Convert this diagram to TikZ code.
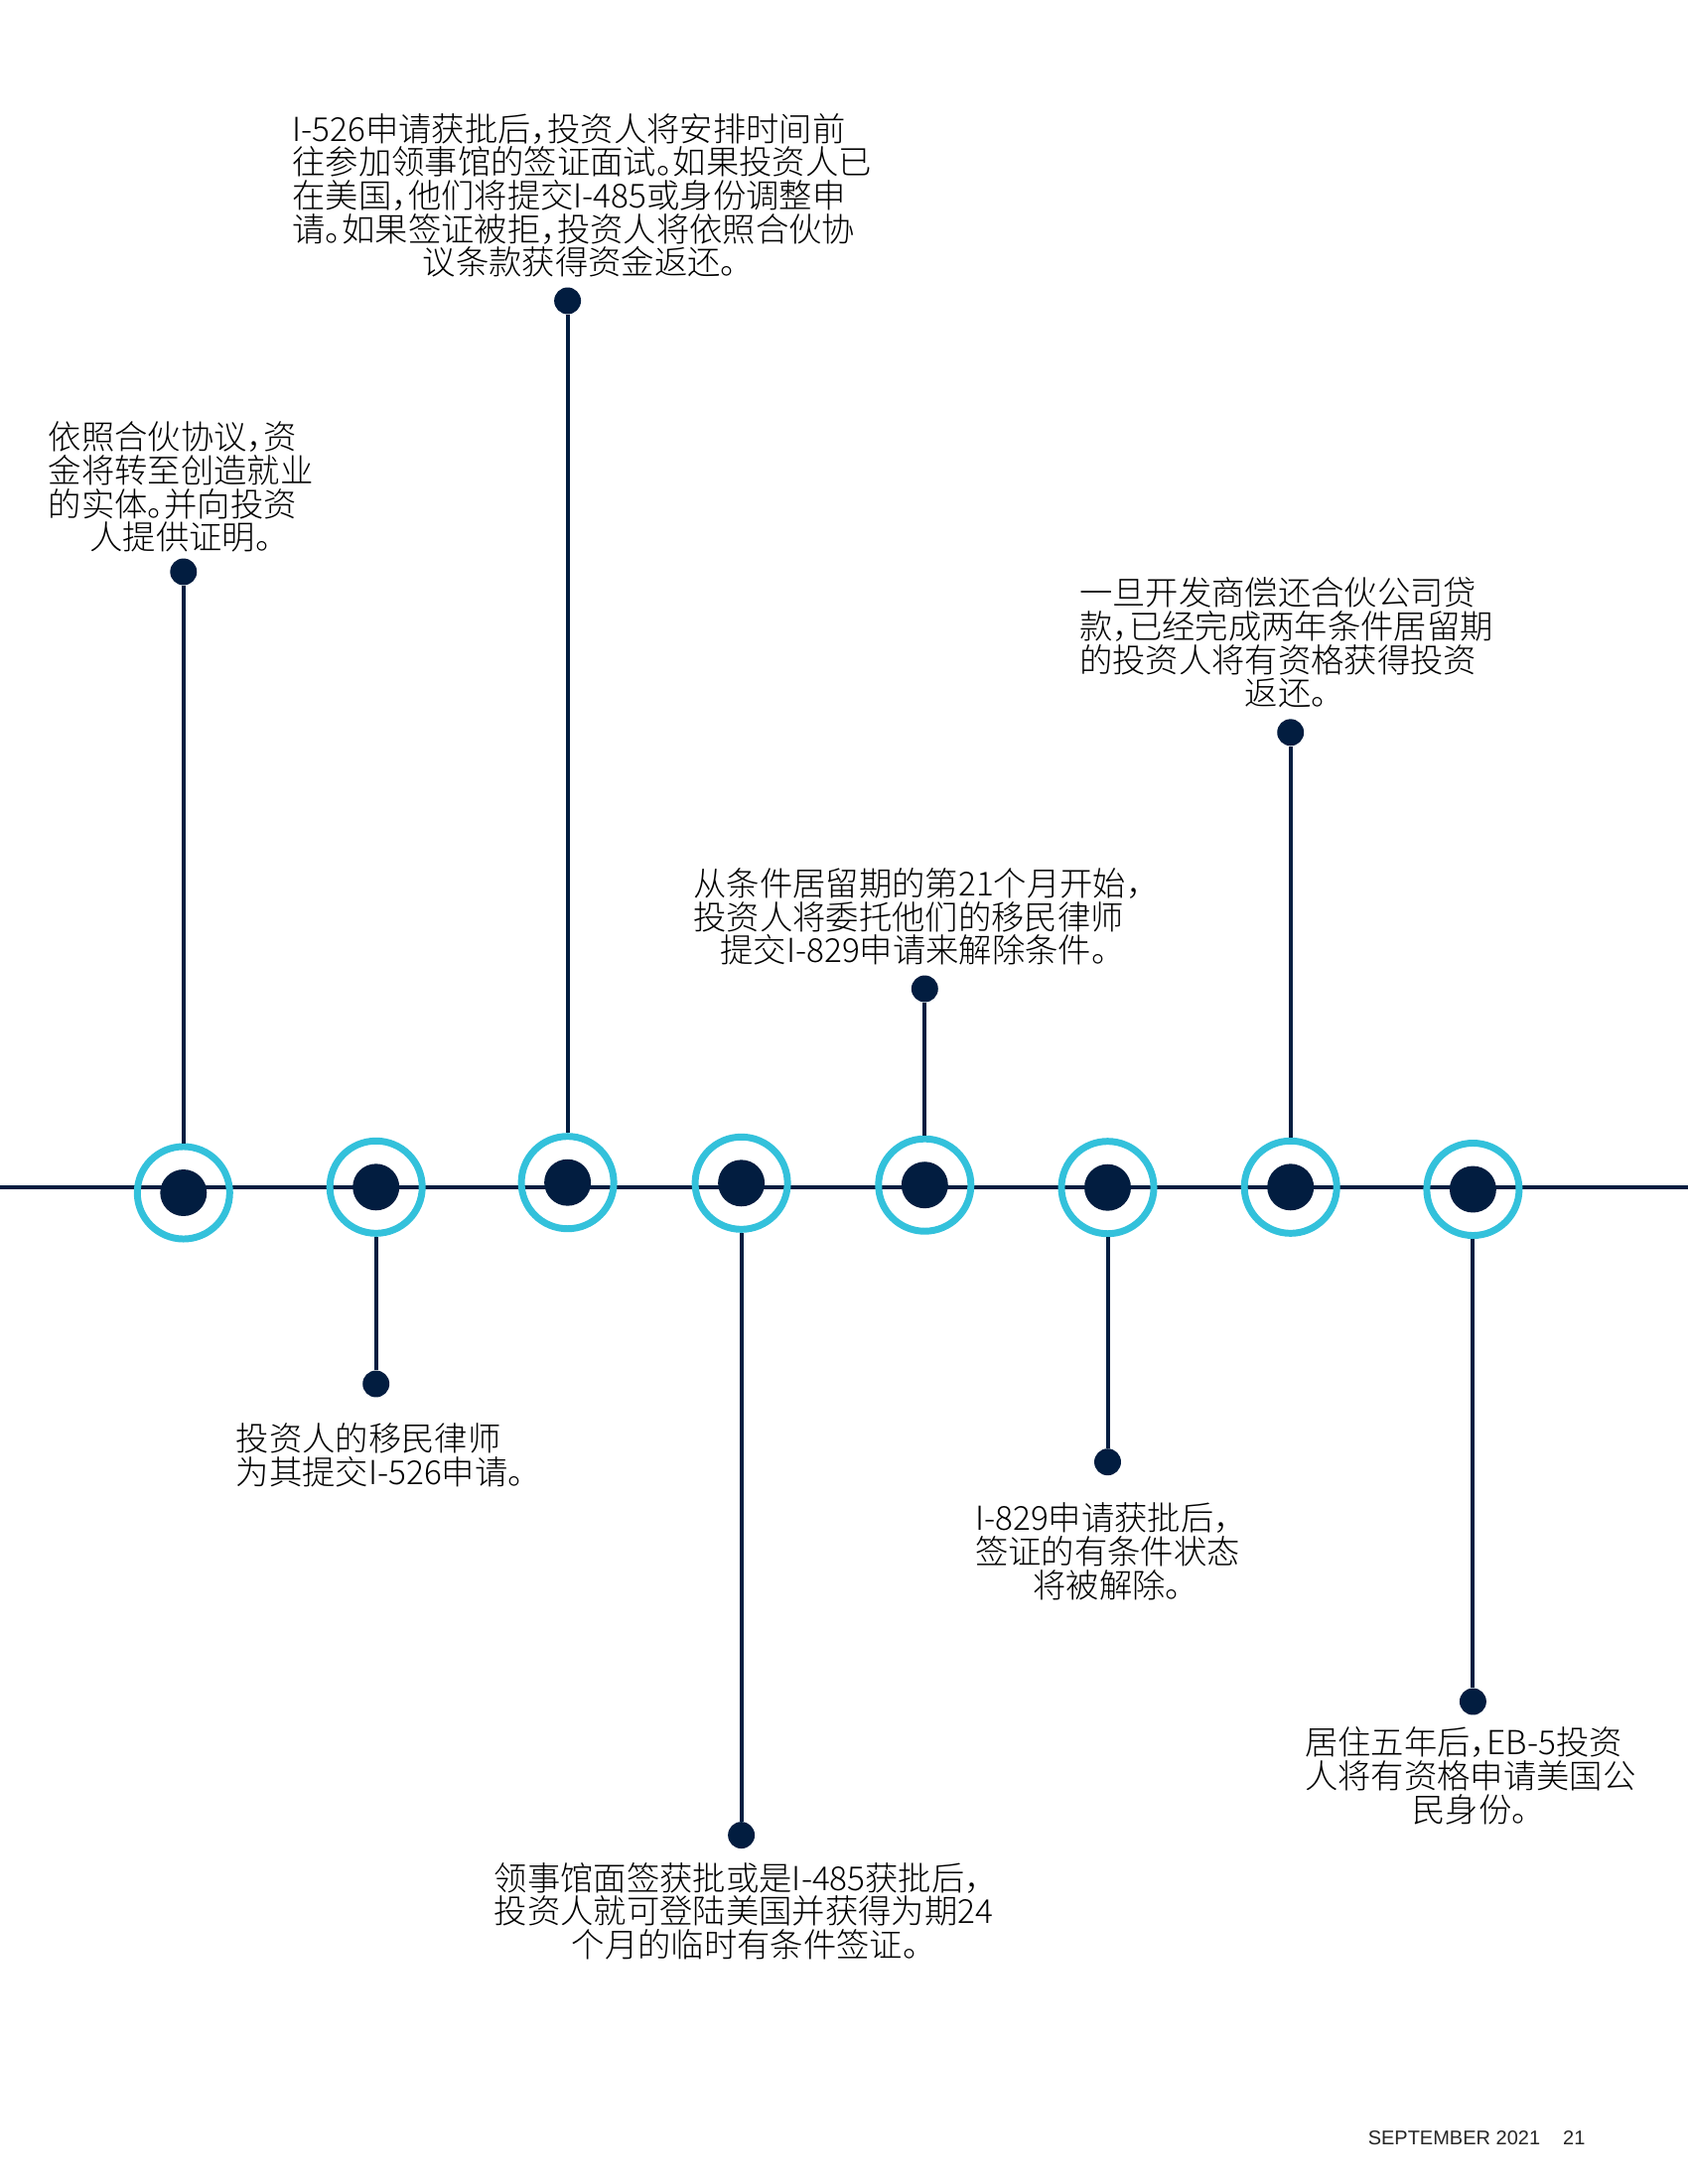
\documentclass[tikz,border=0pt]{standalone}
\usepackage{fontspec}
\setmainfont{Noto Sans CJK SC}[UprightFont={* Light}, RawFeature=+halt]
\newfontfamily\footfont{Liberation Sans}
\usetikzlibrary{positioning}
\definecolor{navy}{HTML}{021D40}
\definecolor{ringblue}{HTML}{33C1DB}
\setlength\parindent{0pt}
\newcommand\notefont{\fontsize{12}{12.1}\selectfont\lineskiplimit=-\maxdimen}
\newcommand\lastline[1]{\makebox[\hsize]{#1}}

\begin{document}
\begin{tikzpicture}[x=0.36pt, y=-0.36pt,
  markring/.style={circle, draw=ringblue, line width=2.5pt, minimum size=33.5pt, inner sep=0pt},
  markdot/.style={circle, fill=navy, minimum size=16.9pt, inner sep=0pt},
  enddot/.style={circle, fill=navy, minimum size=9.7pt, inner sep=0pt},
  stemline/.style={draw=navy, line width=1.45pt},
  notetext/.style={align=left, inner sep=0pt, font=\notefont}]
% 页面范围
\fill[white] (0,0) rectangle (1700,2200);
\useasboundingbox (0,0) rectangle (1700,2200);

% 时间轴
\coordinate (tl-w) at (0,1195.7);
\coordinate (tl-e) at (1700,1195.7);
\draw[navy, line width=1.4pt] (tl-w) -- (tl-e);

% 时间轴上的八个节点
\node[markring] (r1) at (184.8,1201.5) {};
\node[markring] (r2) at (378.7,1195.8) {};
\node[markring] (r3) at (571.6,1191.2) {};
\node[markring] (r4) at (746.6,1191.8) {};
\node[markring] (r5) at (931.3,1193.7) {};
\node[markring] (r6) at (1115.5,1196.2) {};
\node[markring] (r7) at (1299.7,1195.8) {};
\node[markring] (r8) at (1483.4,1198) {};
\node[markdot] (d1) at (r1) {};
\node[markdot] (d2) at (r2) {};
\node[markdot] (d3) at (r3) {};
\node[markdot] (d4) at (r4) {};
\node[markdot] (d5) at (r5) {};
\node[markdot] (d6) at (r6) {};
\node[markdot] (d7) at (r7) {};
\node[markdot] (d8) at (r8) {};

% 引线末端的小圆点
\node[enddot] (s1) at (184.8,576) {};
\node[enddot] (s2) at (378.7,1394) {};
\node[enddot] (s3) at (571.6,303) {};
\node[enddot] (s4) at (746.6,1848.6) {};
\node[enddot] (s5) at (931.3,996) {};
\node[enddot] (s6) at (1115.5,1472.7) {};
\node[enddot] (s7) at (1299.7,737.8) {};
\node[enddot] (s8) at (1483.4,1714) {};

% 引线
\draw[stemline] (s1) -- (r1);
\draw[stemline] (s2) -- (r2);
\draw[stemline] (s3) -- (r3);
\draw[stemline] (s4) -- (r4);
\draw[stemline] (s5) -- (r5);
\draw[stemline] (s6) -- (r6);
\draw[stemline] (s7) -- (r7);
\draw[stemline] (s8) -- (r8);

% 说明文字(上方)
\node[notetext, text width=96pt, above=1.8pt of s1, xshift=-0.9pt] (t1)
  {依照合伙协议，资\\金将转至创造就业\\的实体。并向投资\\\lastline{人提供证明。}};
\node[notetext, text width=208.6pt, above=3.3pt of s3, xshift=4.5pt] (t3)
  {I-526申请获批后，投资人将安排时间前\\往参加领事馆的签证面试。如果投资人已\\在美国，他们将提交I-485或身份调整申\\请。如果签证被拒，投资人将依照合伙协\\\lastline{议条款获得资金返还。}};
\node[notetext, text width=160pt, above=3.3pt of s5, xshift=-3.8pt] (t5)
  {从条件居留期的第21个月开始，\\投资人将委托他们的移民律师\\\lastline{提交I-829申请来解除条件。}};
\node[notetext, text width=150pt, above=3.6pt of s7, xshift=-1.5pt] (t7)
  {一旦开发商偿还合伙公司贷\\款，已经完成两年条件居留期\\的投资人将有资格获得投资\\\lastline{返还。}};

% 说明文字(下方)
\node[notetext, text width=105pt, below=9pt of s2, xshift=1.8pt] (t2)
  {投资人的移民律师\\为其提交\mbox{I-526}申请。};
\node[notetext, text width=182pt, below=4.7pt of s4, xshift=1.5pt] (t4)
  {领事馆面签获批或是I-485获批后，\\投资人就可登陆美国并获得为期24\\\lastline{个月的临时有条件签证。}};
\node[notetext, text width=96pt, below=9.6pt of s6] (t6)
  {I-829申请获批后，\\签证的有条件状态\\\lastline{将被解除。}};
\node[notetext, text width=120pt, below=4.1pt of s8, xshift=-0.9pt] (t8)
  {居住五年后，EB-5投资\\人将有资格申请美国公\\\lastline{民身份。}};

% 页脚
\node[anchor=base east, inner sep=0pt, font=\footfont\fontsize{7.2}{8}\selectfont, text=black!85] (foot) at (1597,2160)
  {SEPTEMBER 2021\hspace{8.3pt}21};
\end{tikzpicture}
\end{document}
